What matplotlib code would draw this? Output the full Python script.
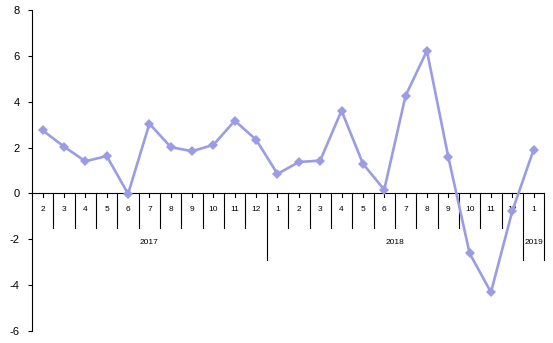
import matplotlib
matplotlib.use('Agg')
import matplotlib.pyplot as plt

plt.rcParams['font.family'] = ['Liberation Sans', 'DejaVu Sans']
plt.rcParams['axes.unicode_minus'] = False

MONTHS = ['2', '3', '4', '5', '6', '7', '8', '9', '10', '11', '12',
          '1', '2', '3', '4', '5', '6', '7', '8', '9', '10', '11', '12',
          '1']
YEARS = ['2017', '2018', '2019']
YEAR_COUNTS = [11, 12, 1]
VALUES = [2.75, 2.04, 1.40, 1.63, -0.02, 3.04, 2.02, 1.84, 2.12, 3.17, 2.34,
          0.85, 1.37, 1.43, 3.61, 1.30, 0.16, 4.26, 6.22, 1.60, -2.61, -4.31, -0.77,
          1.91]

LINE_COLOR = '#9c9ce4'

fig = plt.figure(figsize=(5.53, 3.43), dpi=100)
ax = fig.add_axes([0.0579, 0.035, 0.9264, 0.9359])

n = len(MONTHS)
xs = [i + 0.5 for i in range(n)]
ax.plot(xs, VALUES, color=LINE_COLOR, linewidth=1.9, marker='D', markersize=5,
        markeredgewidth=0, zorder=5, clip_on=False)

ax.set_xlim(0, n)
ax.set_ylim(-6, 8)
ax.set_yticks(range(-6, 9, 2))
ax.set_xticks([])
for side in ['top', 'right', 'bottom']:
    ax.spines[side].set_visible(False)
ax.spines['left'].set_linewidth(0.8)
ax.tick_params(axis='y', direction='out', length=3, width=0.8, labelsize=8, pad=6)

# category axis at zero
ax.plot([0, n], [0, 0], color='black', linewidth=0.8, zorder=3, clip_on=False)

# boundaries between months / years
year_edges = [0]
for c in YEAR_COUNTS:
    year_edges.append(year_edges[-1] + c)
for b in range(1, n + 1):
    low = -2.9 if b in year_edges else -1.5
    ax.plot([b, b], [0, low], color='black', linewidth=0.8, zorder=3, clip_on=False)

# small ticks at category centres
for x in xs:
    ax.plot([x, x], [0, -0.14], color='black', linewidth=0.8, zorder=3)

for x, lab in zip(xs, MONTHS):
    ax.text(x, -0.7, lab, ha='center', va='center', fontsize=6)

for i, yr in enumerate(YEARS):
    ax.text((year_edges[i] + year_edges[i + 1]) / 2, -2.16, yr,
            ha='center', va='center', fontsize=6)

fig.savefig('out.png', dpi=100)
